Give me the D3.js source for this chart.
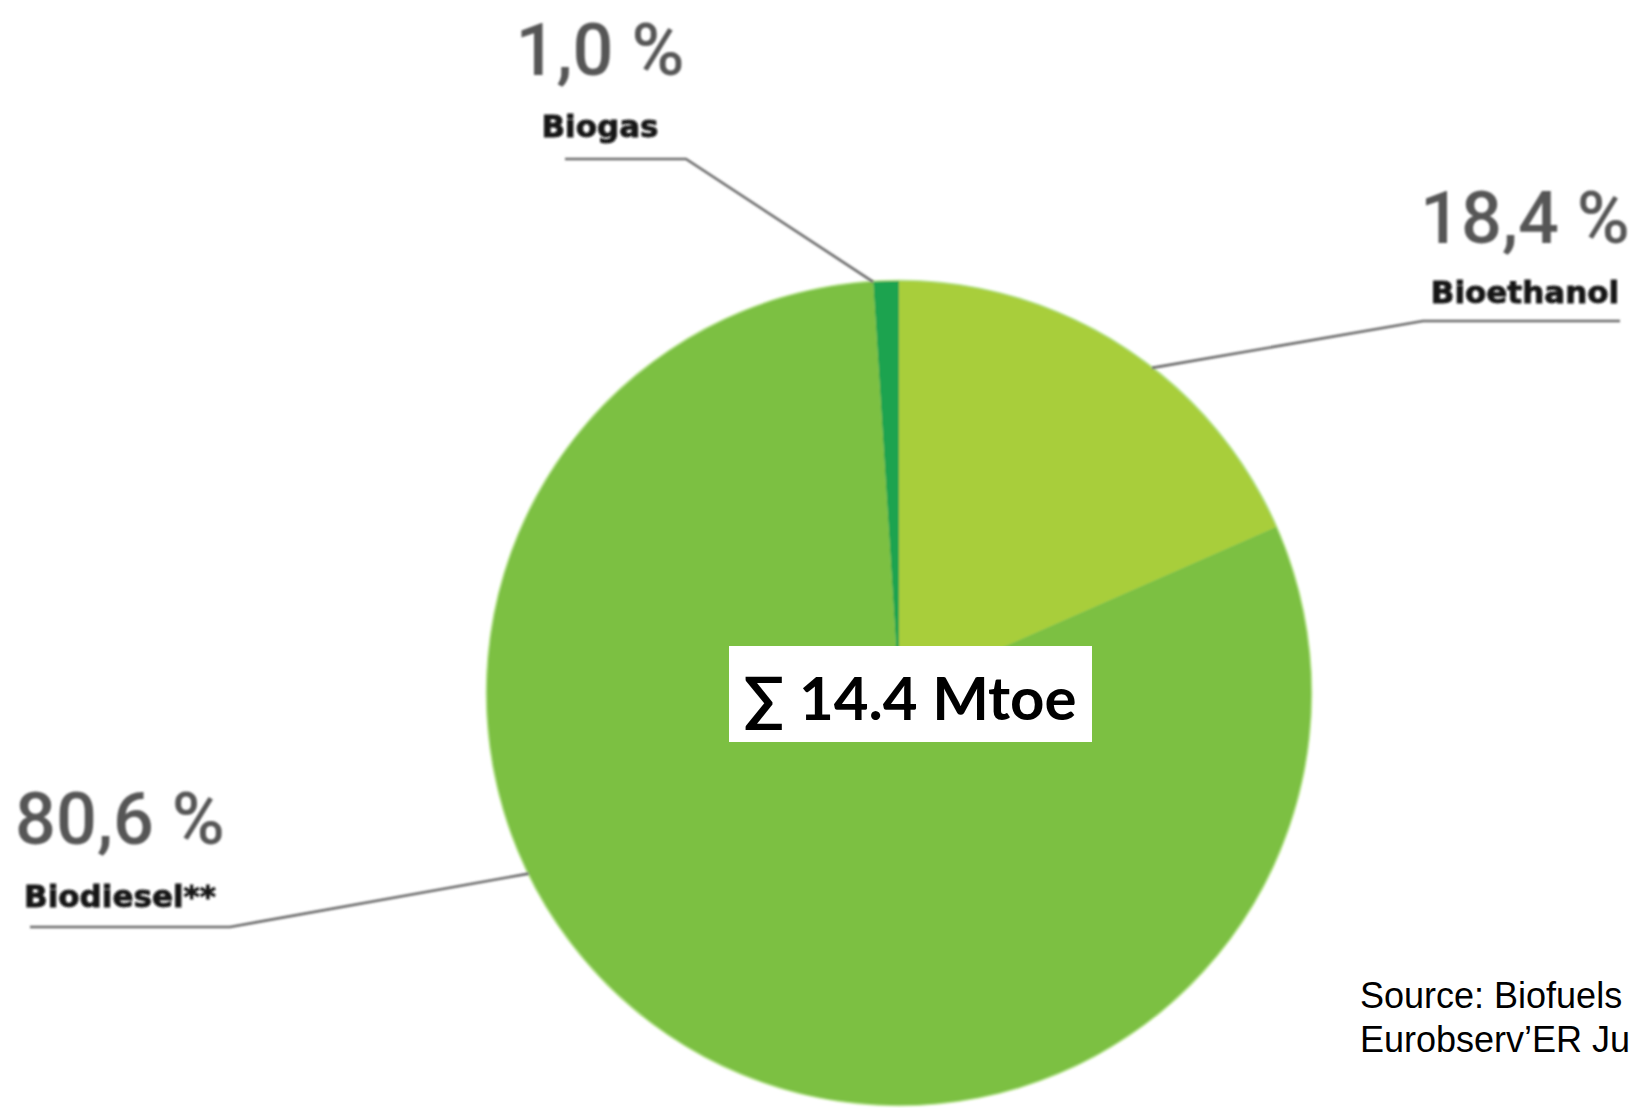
<!DOCTYPE html>
<html>
<head>
<meta charset="utf-8">
<script src="https://cdn.jsdelivr.net/npm/d3@7"></script>
<style>
  html, body { margin: 0; padding: 0; background: #ffffff; }
  svg { display: block; }
</style>
</head>
<body>
<svg id="chart" width="1635" height="1108"></svg>
<script>
// Biofuel consumption for transport by type (share of total)
const categories = ["Biogas", "Bioethanol", "Biodiesel**"];
const shares = [1.0, 18.4, 80.6];
const totalMtoe = 14.4;
const sourceLines = ["Source: Biofuels", "Eurobserv\u2019ER Ju"];

const sliceColors = ["#1ea350", "#a8ce3a", "#7bc043"];

const width = 1635, height = 1108;
const cx = 899, cy = 693, radius = 412;

const svg = d3.select("#chart");

const defs = svg.append("defs");
defs.append("filter").attr("id", "soft")
  .append("feGaussianBlur").attr("stdDeviation", 0.9);
defs.append("filter").attr("id", "softText")
  .append("feGaussianBlur").attr("stdDeviation", 1.1);

// Pie starts so that the small biogas slice sits just left of 12 o'clock
const total = d3.sum(shares);
const start = -shares[0] / total * 2 * Math.PI;
const pie = d3.pie().sort(null).value(d => d)
  .startAngle(start).endAngle(start + 2 * Math.PI);
const arc = d3.arc().innerRadius(0).outerRadius(radius);

const pieG = svg.append("g")
  .attr("transform", `translate(${cx},${cy})`)
  .attr("filter", "url(#soft)");

// light rim around the disc
pieG.append("circle").attr("r", radius + 1.5)
  .attr("fill", "#b9e58f");

pieG.selectAll("path.slice")
  .data(pie(shares))
  .join("path")
  .attr("class", "slice")
  .attr("d", arc)
  .attr("fill", (d, i) => sliceColors[i]);

// Label placement: text anchor, underline extent and the angle where the leader meets the disc
const labelLayout = [
  { x: 600, pctY: 75,  nameY: 137, lineY: 159, lineX0: 565, lineX1: 686, side: "right", angle: -3.6 },
  { x: 1525, pctY: 243, nameY: 303, lineY: 321, lineX0: 1423, lineX1: 1620, side: "left", angle: 37.9 },
  { x: 120, pctY: 844, nameY: 907, lineY: 927, lineX0: 30, lineX1: 230, side: "right", angle: 244 }
];

const fmtPct = v => d3.format(".1f")(v).replace(".", ",") + " %";

const labelG = svg.append("g").attr("filter", "url(#softText)");

labelLayout.forEach((L, i) => {
  const a = L.angle * Math.PI / 180;
  const ex = cx + radius * Math.sin(a);
  const ey = cy - radius * Math.cos(a);
  const joinX = L.side === "right" ? L.lineX1 : L.lineX0;
  const pts = [[L.side === "right" ? L.lineX0 : L.lineX1, L.lineY], [joinX, L.lineY], [ex, ey]];
  labelG.append("path")
    .attr("d", d3.line()(pts))
    .attr("fill", "none")
    .attr("stroke", "#6a6a6a")
    .attr("stroke-width", 2.6);

  labelG.append("text")
    .attr("x", L.x).attr("y", L.pctY)
    .attr("text-anchor", "middle")
    .attr("font-family", "Roboto, 'DejaVu Sans', sans-serif")
    .attr("font-weight", 500)
    .attr("font-size", 72)
    .attr("fill", "#575757")
    .text(fmtPct(shares[i]));

  labelG.append("text")
    .attr("x", L.x).attr("y", L.nameY)
    .attr("text-anchor", "middle")
    .attr("font-family", "'DejaVu Sans', sans-serif")
    .attr("font-weight", 700)
    .attr("font-size", 31)
    .attr("fill", "#141414")
    .attr("stroke", "#141414")
    .attr("stroke-width", 0.8)
    .text(categories[i]);
});

// Total in a white box over the centre
const boxG = svg.append("g");
boxG.append("rect")
  .attr("x", 729).attr("y", 646).attr("width", 363).attr("height", 96)
  .attr("fill", "#ffffff");
boxG.append("text")
  .attr("x", 910).attr("y", 720)
  .attr("text-anchor", "middle")
  .attr("font-family", "Lato, 'Open Sans', sans-serif")
  .attr("font-weight", 700)
  .attr("font-size", 60)
  .attr("fill", "#000000")
  .text("\u2211 " + d3.format(".1f")(totalMtoe) + " Mtoe");

// Source note
svg.append("g").selectAll("text")
  .data(sourceLines)
  .join("text")
  .attr("x", 1360)
  .attr("y", (d, i) => 1008 + i * 44)
  .attr("font-family", "'Liberation Sans', Arial, sans-serif")
  .attr("font-size", 36)
  .attr("fill", "#000000")
  .text(d => d);
</script>
</body>
</html>
